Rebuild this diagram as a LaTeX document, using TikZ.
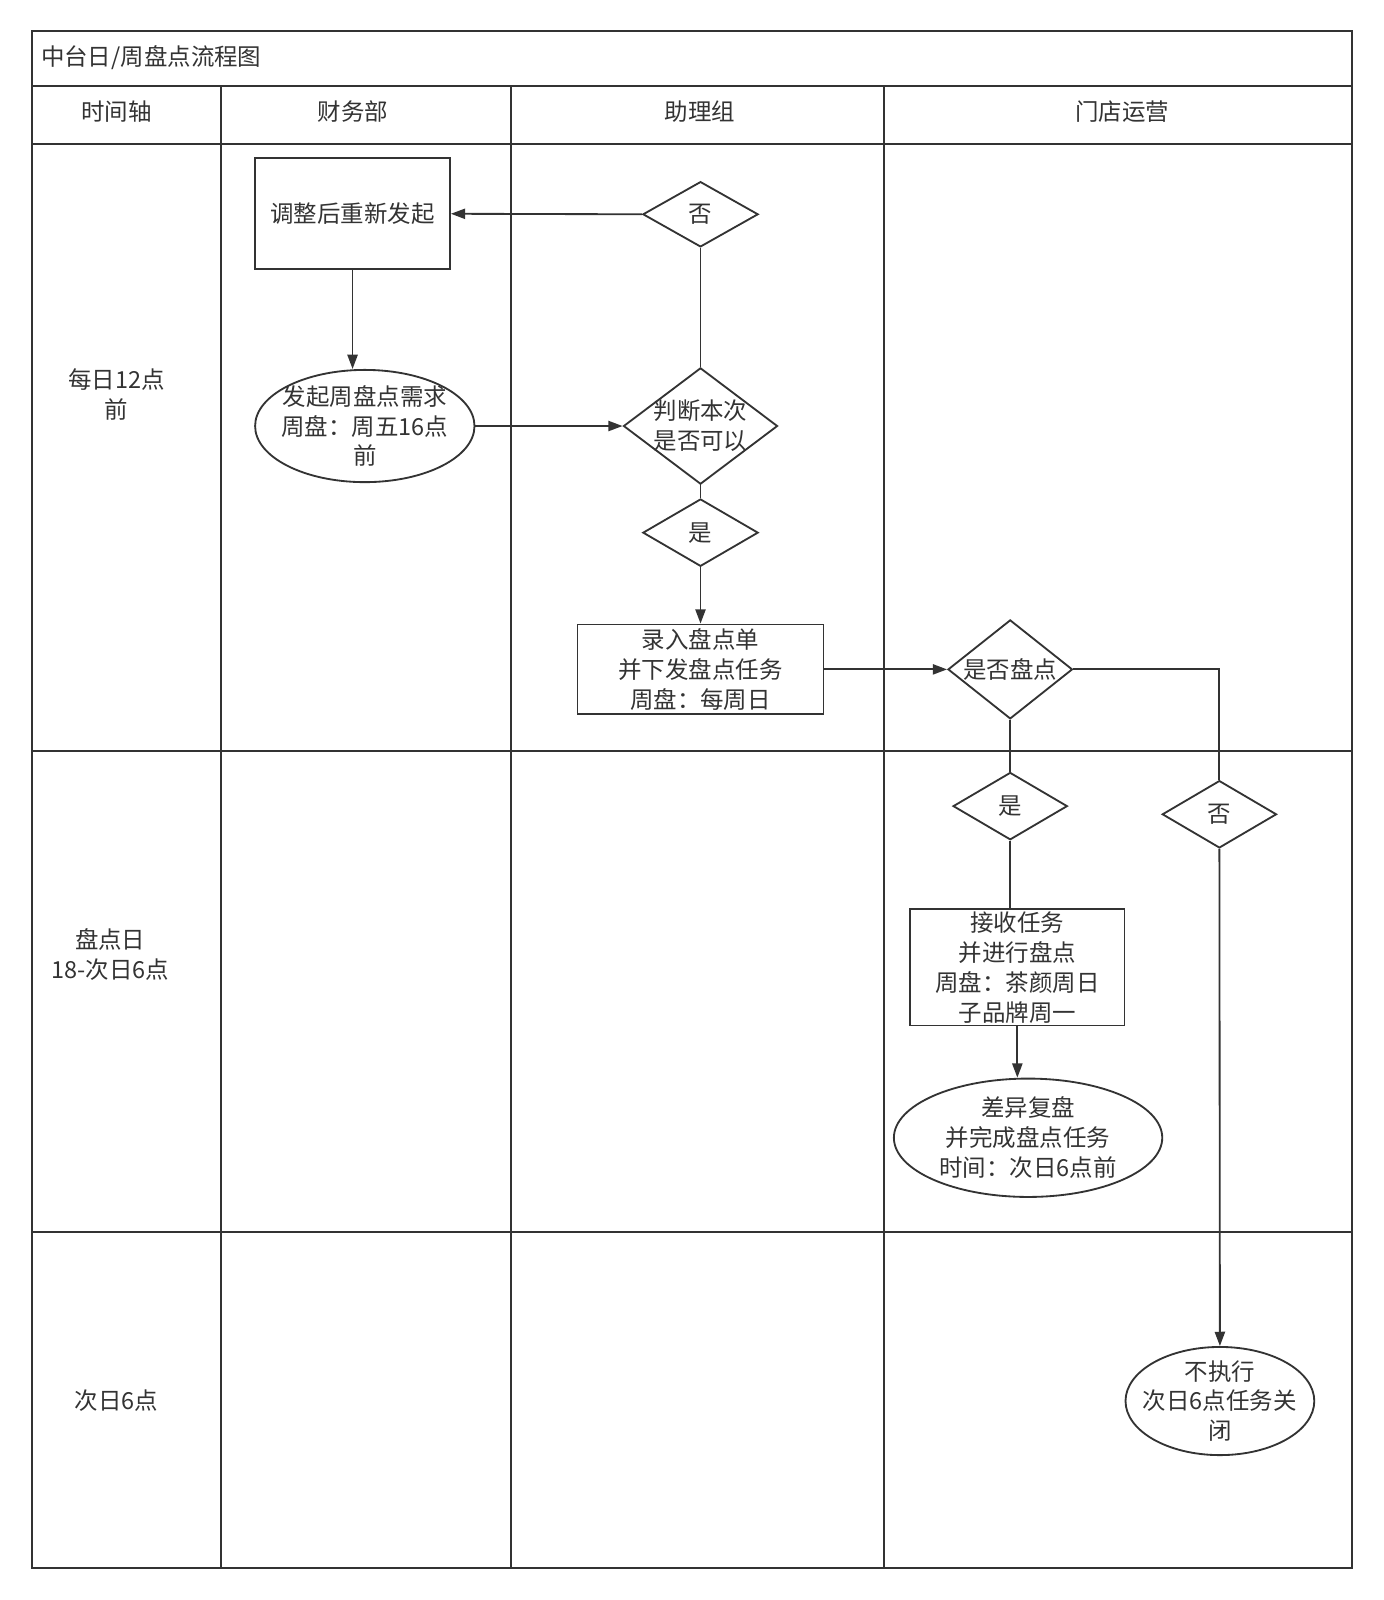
\documentclass[tikz,border=0pt]{standalone}
\usepackage{fontspec}
\setmainfont{Noto Sans CJK SC}
\usetikzlibrary{shapes.geometric,arrows.meta}
\definecolor{ln}{HTML}{333333}
\begin{document}
\begin{tikzpicture}[x=1pt,y=-1pt,
 every node/.style={font=\fontsize{23}{29.3}\selectfont, text=ln},
 box/.style={draw=ln, line width=1.8pt, fill=white, rectangle, inner sep=0pt, align=center},
 dia/.style={draw=ln, line width=1.8pt, fill=white, diamond, inner sep=0pt},
 ell/.style={draw=ln, line width=1.8pt, fill=white, ellipse, inner sep=0pt},
 txt/.style={align=center, inner sep=0pt},
 conn/.style={draw=ln, line width=1.8pt},
 arr/.style={conn, -{Triangle[length=14pt,width=10pt]}},
 gridline/.style={draw=ln, line width=1.9pt}]
\useasboundingbox[fill=white] (0,0) rectangle (1356,1568);
% lanes
\draw[gridline] (31,30) rectangle (1325,1537);
\draw[gridline] (31,84) -- (1325,84);
\draw[gridline] (31,141) -- (1325,141);
\draw[gridline] (31,736) -- (1325,736);
\draw[gridline] (31,1207) -- (1325,1207);
\draw[gridline] (217,84) -- (217,1537);
\draw[gridline] (501,84) -- (501,1537);
\draw[gridline] (866,84) -- (866,1537);
% titles
\node[anchor=west, inner sep=0pt] (title) at (40,56) {中台日/周盘点流程图};
\node (h1) at (114,109) {时间轴};
\node (h2) at (346,109) {财务部};
\node (h3) at (686,109) {助理组};
\node (h4) at (1100,109) {门店运营};
\node[txt] (r1) at (114,387) {每日12点\\前};
\node[txt] (r2) at (108,935) {盘点日\\18-次日6点};
\node[txt] (r3) at (114,1373) {次日6点};
% flow nodes
\node[box, minimum width=191, minimum height=109] (adj) at (345.5,209.5) {调整后重新发起};
\node[ell, minimum width=215, minimum height=110, label={[txt]center:{发起周盘点需求\\周盘：周五16点\\前}}] (req) at (357.5,417.5) {};
\node[dia, minimum width=113, minimum height=64, label={[txt]center:否}] (no1) at (686.5,210) {};
\node[dia, minimum width=151, minimum height=114, label={[txt]center:{判断本次\\是否可以}}] (judge) at (686.5,417.5) {};
\node[dia, minimum width=113, minimum height=66, label={[txt]center:是}] (yes1) at (686.5,522) {};
\node[box, minimum width=241, minimum height=88] (entry) at (686.5,656) {录入盘点单\\并下发盘点任务\\周盘：每周日};
\node[dia, minimum width=122, minimum height=97, label={[txt]center:是否盘点}] (ask) at (990,656) {};
\node[dia, minimum width=112, minimum height=66, label={[txt]center:是}] (yes2) at (990,790) {};
\node[dia, minimum width=112, minimum height=66, label={[txt]center:否}] (no2) at (1195,798) {};
\node[box, minimum width=210, minimum height=114] (recv) at (997,948) {接收任务\\并进行盘点\\周盘：茶颜周日\\子品牌周一};
\node[ell, minimum width=263, minimum height=116, label={[txt]center:{差异复盘\\并完成盘点任务\\时间：次日6点前}}] (diff) at (1007.5,1115) {};
\node[ell, minimum width=185, minimum height=106, label={[txt]center:{不执行\\次日6点任务关\\闭}}] (skip) at (1195.5,1373) {};
% connectors
\draw[arr] (no1.west) -- (adj.east);
\draw[conn] (judge.north) -- (no1.south);
\draw[arr] (adj.south) -- (adj.south |- req.north);
\draw[arr] (req.east) -- (judge.west);
\draw[conn] (judge.south) -- (yes1.north);
\draw[arr] (yes1.south) -- (entry.north);
\draw[arr] (entry.east) -- (ask.west);
\draw[conn] (ask.south) -- (yes2.north);
\draw[conn] (ask.east) -| (no2.north);
\draw[conn] (yes2.south) -- (yes2.south |- recv.north);
\draw[arr] (recv.south) -- (recv.south |- diff.north);
\draw[arr] (no2.south) -- (skip.north);
\end{tikzpicture}
\end{document}
